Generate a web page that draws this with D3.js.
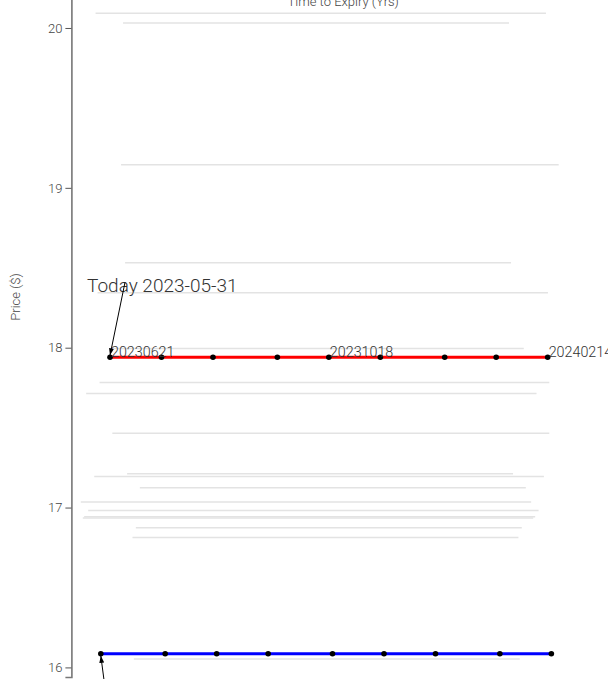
<!DOCTYPE html>
<html>
<head>
<meta charset="utf-8">
<script src="https://cdn.jsdelivr.net/npm/d3@7"></script>
<style>
  body { margin: 0; background: #fff; }
  svg { display: block; font-family: Roboto, sans-serif; font-weight: 300; }
</style>
</head>
<body>
<svg id="chart"></svg>
<script>
// expiry dates (third Wednesday / third Friday), today's date
const today = '2023-05-31';
const redDates = ['2023-06-21','2023-07-19','2023-08-16','2023-09-20','2023-10-18','2023-11-15','2023-12-20','2024-01-17','2024-02-14'];
const redPrices = [17.94, 17.94, 17.94, 17.94, 17.94, 17.94, 17.94, 17.94, 17.94];
const blueDates = ['2023-06-16','2023-07-21','2023-08-18','2023-09-15','2023-10-20','2023-11-17','2023-12-15','2024-01-19','2024-02-16'];
const bluePrices = [16.085, 16.085, 16.085, 16.085, 16.085, 16.085, 16.085, 16.085, 16.085];
const redLabelIdx = [0, 4, 8];

// gray reference levels: price, start / end in years to expiry
const grayLevels = [20.092, 20.031, 19.144, 18.531, 18.343, 17.995, 17.782, 17.713, 17.464, 17.212, 17.195, 17.124, 17.034, 16.982, 16.942, 16.934, 16.873, 16.813, 16.053];
const grayStart  = [0.036, 0.077, 0.074, 0.080, 0.039, 0.058, 0.042, 0.022, 0.061, 0.083, 0.034, 0.102, 0.014, 0.025, 0.019, 0.017, 0.096, 0.091, 0.093];
const grayEnd    = [0.707, 0.652, 0.726, 0.655, 0.710, 0.674, 0.712, 0.693, 0.712, 0.658, 0.704, 0.677, 0.685, 0.696, 0.691, 0.688, 0.671, 0.666, 0.668];

const yTicks = [16, 17, 18, 19, 20];

const width = 611, height = 679;
const margin = {top: -4, right: 0, bottom: 2, left: 71.4};

const svg = d3.select('#chart').attr('width', width).attr('height', height);
const chart = svg.append('g').attr('transform', `translate(${margin.left}, ${margin.top})`);
const innerW = width - margin.left - margin.right;
const innerH = height - margin.top - margin.bottom;

const parse = d3.timeParse('%Y-%m-%d');
const t0 = parse(today);
const yrs = s => (parse(s) - t0) / (365 * 864e5);

const xscale = d3.scaleLinear().domain([0, innerW / 671.2]).range([0, innerW]);
const yscale = d3.scaleLinear().domain([15.94, 20.2]).range([innerH, 0]);

// gray lines
chart.append('g').selectAll('line')
  .data(grayLevels)
  .join('line')
  .attr('x1', (d, i) => xscale(grayStart[i]))
  .attr('x2', (d, i) => xscale(grayEnd[i]))
  .attr('y1', d => yscale(d))
  .attr('y2', d => yscale(d))
  .attr('stroke', '#e3e3e3')
  .attr('stroke-width', 1.5);

// y axis
const yaxis = d3.axisLeft(yscale).tickValues(yTicks).tickFormat(d3.format('d')).tickSize(6).tickSizeOuter(6);
const yg = chart.append('g').call(yaxis);
yg.select('.domain').attr('stroke', '#777').attr('stroke-width', 1.6);
yg.selectAll('.tick line').attr('stroke', '#555');
yg.selectAll('.tick text').attr('fill', '#444').attr('font-size', 13).attr('font-family', 'Roboto').attr('font-weight', 300);

svg.append('text')
  .attr('transform', `translate(${20}, ${297}) rotate(-90)`)
  .attr('text-anchor', 'middle')
  .attr('fill', '#444')
  .attr('font-size', 13)
  .text('Price ($)');

svg.append('text')
  .attr('x', margin.left + innerW / 2 + 2)
  .attr('y', 6)
  .attr('text-anchor', 'middle')
  .attr('fill', '#444')
  .attr('font-size', 13)
  .text('Time to Expiry (Yrs)');

const line = d3.line().x(d => xscale(d[0])).y(d => yscale(d[1]));

const red = redDates.map((d, i) => [yrs(d), redPrices[i]]);
const blue = blueDates.map((d, i) => [yrs(d), bluePrices[i]]);

[[red, '#ff0000'], [blue, '#0000ff']].forEach(([data, col]) => {
  chart.append('path')
    .attr('d', line(data))
    .attr('stroke', col)
    .attr('stroke-width', 3)
    .attr('fill', 'none');
  chart.append('g').selectAll('circle')
    .data(data)
    .join('circle')
    .attr('cx', d => xscale(d[0]))
    .attr('cy', d => yscale(d[1]))
    .attr('r', 2.8)
    .attr('fill', '#000');
});

// clip so the last label is cut like the plot panel edge
svg.append('defs').append('clipPath').attr('id', 'panel')
  .append('rect').attr('x', -margin.left).attr('y', 0).attr('width', 608 - margin.left + margin.left).attr('height', innerH + 10);

// date labels on red series
chart.append('g').attr('clip-path', 'url(#panel)').selectAll('text')
  .data(redLabelIdx)
  .join('text')
  .attr('x', i => xscale(red[i][0]) + 1)
  .attr('y', i => yscale(red[i][1]) - 0.5)
  .attr('fill', '#333')
  .attr('font-size', 14.3)
  .text(i => redDates[i].replace(/-/g, ''));

// annotations
svg.select('defs').append('marker')
  .attr('id', 'arr')
  .attr('viewBox', '0 0 10 10')
  .attr('refX', 10).attr('refY', 5)
  .attr('markerWidth', 7).attr('markerHeight', 7)
  .attr('orient', 'auto')
  .append('path').attr('d', 'M0,1.5 L10,5 L0,8.5 Z').attr('fill', '#000');

chart.append('text')
  .attr('x', xscale(0) + 15.6)
  .attr('y', yscale(red[0][1]) - 65.5)
  .attr('fill', '#333')
  .attr('font-size', 19)
  .text('Today ' + today);

chart.append('line')
  .attr('x1', xscale(red[0][0]) + 15)
  .attr('y1', yscale(red[0][1]) - 75)
  .attr('x2', xscale(red[0][0]))
  .attr('y2', yscale(red[0][1]) - 2)
  .attr('stroke', '#000')
  .attr('stroke-width', 1)
  .attr('marker-end', 'url(#arr)');

chart.append('line')
  .attr('x1', xscale(blue[0][0]) + 5)
  .attr('y1', yscale(blue[0][1]) + 40)
  .attr('x2', xscale(blue[0][0]))
  .attr('y2', yscale(blue[0][1]) + 2)
  .attr('stroke', '#000')
  .attr('stroke-width', 1)
  .attr('marker-end', 'url(#arr)');
</script>
</body>
</html>
